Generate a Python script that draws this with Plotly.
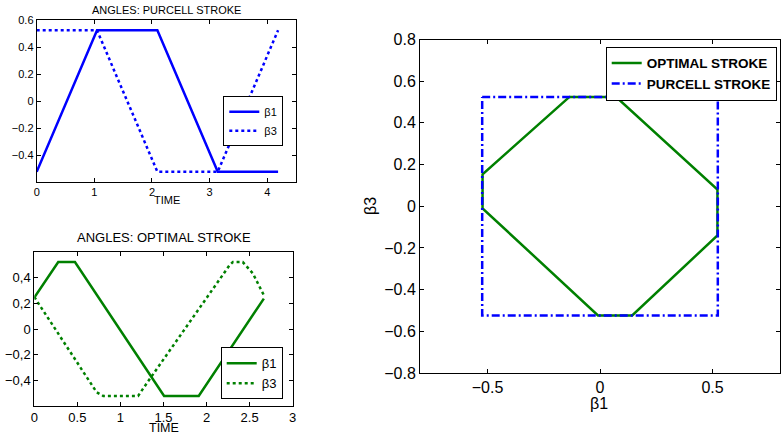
import plotly.graph_objects as go

# ---------------- data ----------------
# Purcell stroke, angles vs time
purcell_t = [0.0, 1.047, 2.094, 3.142, 4.189]
purcell_b1 = [-0.5236, 0.5236, 0.5236, -0.5236, -0.5236]
purcell_b3 = [0.5236, 0.5236, -0.5236, -0.5236, 0.5236]

# Optimal stroke, angles vs time
opt_t_b1 = [0.0, 0.278, 0.472, 1.507, 1.909, 2.665]
opt_b1 = [0.246, 0.5236, 0.5236, -0.5236, -0.5236, 0.238]
opt_t_b3 = [0.0, 0.723, 0.80, 1.205, 1.302, 2.268, 2.306, 2.42, 2.538, 2.665]
opt_b3 = [0.25, -0.494, -0.5236, -0.5236, -0.428, 0.50, 0.5236, 0.5236, 0.434, 0.264]

# Phase plane (beta1, beta3)
opt_phase_b1 = [-0.137, 0.072, 0.522, 0.522, 0.143, -0.009, -0.522, -0.522, -0.137]
opt_phase_b3 = [0.5236, 0.5236, 0.08, -0.14, -0.5236, -0.5236, -0.01, 0.153, 0.5236]
purcell_phase_b1 = [-0.5236, 0.5236, 0.5236, -0.5236, -0.5236]
purcell_phase_b3 = [0.5236, 0.5236, -0.5236, -0.5236, 0.5236]

# tick labels
tl_x_ticks = [0, 1, 2, 3, 4]
tl_y_ticks = [-0.4, -0.2, 0, 0.2, 0.4, 0.6]
tl_y_text = ["\u22120.4", "\u22120.2", "0", "0.2", "0.4", "0.6"]
bl_x_ticks = [0, 0.5, 1, 1.5, 2, 2.5, 3]
bl_y_ticks = [-0.4, -0.2, 0, 0.2, 0.4]
bl_y_text = ["\u22120,4", "\u22120,2", "0", "0,2", "0,4"]
r_x_ticks = [-0.5, 0, 0.5]
r_x_text = ["\u22120.5", "0", "0.5"]
r_y_ticks = [-0.8, -0.6, -0.4, -0.2, 0, 0.2, 0.4, 0.6, 0.8]
r_y_text = ["\u22120.8", "\u22120.6", "\u22120.4", "\u22120.2", "0", "0.2", "0.4", "0.6", "0.8"]

BLUE = "#0000ff"
GREEN = "#008000"
FONT = "Liberation Sans, Arial, sans-serif"

W, H = 783, 436


def px(x):
    return x / W


def py(y):
    return 1 - y / H


fig = go.Figure()

# top-left
fig.add_trace(go.Scatter(x=purcell_t, y=purcell_b1, mode="lines", name="\u03b21",
                         line=dict(color=BLUE, width=2.5), xaxis="x", yaxis="y", legend="legend"))
fig.add_trace(go.Scatter(x=purcell_t, y=purcell_b3, mode="lines", name="\u03b23",
                         line=dict(color=BLUE, width=2.5, dash="dot"), xaxis="x", yaxis="y", legend="legend"))
# bottom-left
fig.add_trace(go.Scatter(x=opt_t_b1, y=opt_b1, mode="lines", name="\u03b21",
                         line=dict(color=GREEN, width=2.5), xaxis="x2", yaxis="y2", legend="legend2"))
fig.add_trace(go.Scatter(x=opt_t_b3, y=opt_b3, mode="lines", name="\u03b23",
                         line=dict(color=GREEN, width=2.5, dash="dot"), xaxis="x2", yaxis="y2", legend="legend2"))
# right
fig.add_trace(go.Scatter(x=opt_phase_b1, y=opt_phase_b3, mode="lines", name="OPTIMAL STROKE",
                         line=dict(color=GREEN, width=2.5), xaxis="x3", yaxis="y3",
                         legend="legend3", legendrank=1))
fig.add_trace(go.Scatter(x=purcell_phase_b1, y=purcell_phase_b3, mode="lines", name="PURCELL STROKE",
                         line=dict(color=BLUE, width=2.5, dash="8px,3px,2px,3px"), xaxis="x3", yaxis="y3",
                         legend="legend3", legendrank=2))


def ax(domain, rng, size, anchor, tickvals=None, ticktext=None):
    d = dict(domain=domain, range=rng, anchor=anchor, showgrid=False, zeroline=False,
             automargin=False,
             showline=True, linecolor="black", linewidth=1, mirror="ticks",
             ticks="inside", ticklen=4, tickcolor="black", tickwidth=1,
             tickfont=dict(family=FONT, size=size, color="black"))
    if tickvals is not None:
        d["tickmode"] = "array"
        d["tickvals"] = tickvals
    if ticktext is not None:
        d["ticktext"] = ticktext
    return d


fig.update_layout(
    template="none",
    width=W, height=H, margin=dict(l=0, r=0, t=0, b=0, pad=0), autosize=False,
    paper_bgcolor="white", plot_bgcolor="white",
    font=dict(family=FONT, color="black"),
    xaxis=ax([px(36.7), px(296)], [0, 4.5], 11, "y", tl_x_ticks),
    yaxis=ax([py(182), py(20)], [-0.6, 0.6], 11, "x", tl_y_ticks, tl_y_text),
    xaxis2=ax([px(34.3), px(292.7)], [0, 3], 13, "y2", bl_x_ticks),
    yaxis2=ax([py(405.7), py(252.3)], [-0.6, 0.6], 13, "x2", bl_y_ticks, bl_y_text),
    xaxis3=ax([px(420), px(780)], [-0.8, 0.8], 16, "y3", r_x_ticks, r_x_text),
    yaxis3=ax([py(373), py(39.5)], [-0.8, 0.8], 16, "x3", r_y_ticks, r_y_text),
    legend=dict(x=px(283.3), y=py(96.3), xanchor="right", yanchor="top",
                bordercolor="black", borderwidth=1, bgcolor="white", itemwidth=30,
                tracegroupgap=0, font=dict(family=FONT, size=11, color="black")),
    legend2=dict(x=px(282.7), y=py(347.3), xanchor="right", yanchor="top",
                 bordercolor="black", borderwidth=1, bgcolor="white", itemwidth=30,
                 tracegroupgap=0, font=dict(family=FONT, size=13, color="black")),
    legend3=dict(x=px(776.7), y=py(46.7), xanchor="right", yanchor="top",
                 bordercolor="black", borderwidth=1, bgcolor="white", itemwidth=30,
                 tracegroupgap=0, font=dict(family=FONT, size=13.5, color="black", weight="bold")),
    showlegend=True,
)

annotations = [
    dict(text="ANGLES: PURCELL STROKE", x=166.5, y=10, size=11),
    dict(text="TIME", x=166.5, y=200, size=11),
    dict(text="ANGLES: OPTIMAL STROKE", x=163.5, y=238, size=13),
    dict(text="TIME", x=163.5, y=428, size=12.5),
    dict(text="\u03b21", x=599, y=403, size=16),
    dict(text="\u03b23", x=371, y=206, size=16, angle=-90),
]
for a in annotations:
    fig.add_annotation(text=a["text"], x=px(a["x"]), y=py(a["y"]), xref="paper", yref="paper",
                       xanchor="center", yanchor="middle", showarrow=False,
                       textangle=a.get("angle", 0),
                       font=dict(family=FONT, size=a["size"], color="black"))

# remove the browser's default 8px body margin so the figure sits at the page origin
fig.write_html("out.html", config={"displayModeBar": False},
               post_script="document.body.style.margin='0px';")
